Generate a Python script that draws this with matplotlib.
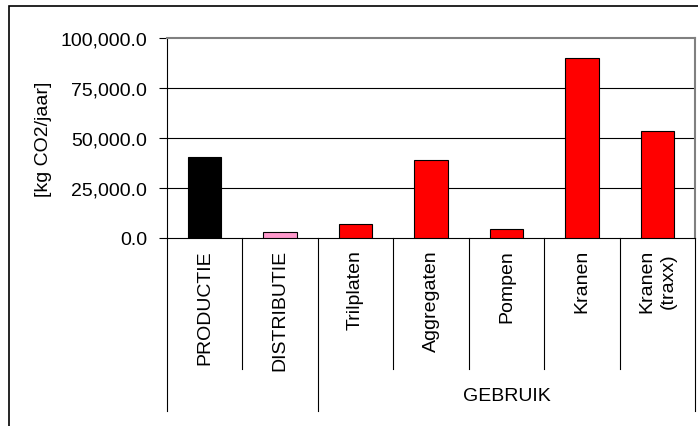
import matplotlib
matplotlib.use("Agg")
import matplotlib.pyplot as plt
from matplotlib.patches import Rectangle
import matplotlib.transforms as mtransforms

plt.rcParams['font.family'] = ['Liberation Sans', 'DejaVu Sans']

categories = ["PRODUCTIE", "DISTRIBUTIE", "Trilplaten", "Aggregaten", "Pompen", "Kranen", "Kranen\n(traxx)"]
values = [40600, 2900, 6800, 39000, 4600, 90000, 53400]
colors = ["#000000", "#FF99CC", "#FF0000", "#FF0000", "#FF0000", "#FF0000", "#FF0000"]
group_label = "GEBRUIK"
group_start = 2  # first index of the GEBRUIK group
y_ticks = [0, 25000, 50000, 75000, 100000]
y_label = "[kg CO2/jaar]"

W, H = 698, 427
fig = plt.figure(figsize=(W / 100, H / 100), dpi=100)

# pixel geometry of plot area
L, R, T, B = 166.7, 695.3, 39.3, 238.7
ax = fig.add_axes([L / W, 1 - B / H, (R - L) / W, (B - T) / H])
ah = B - T

n = len(categories)
ax.bar(range(n), values, width=0.44, color=colors, edgecolor="black", linewidth=0.8, zorder=3)
ax.set_xlim(-0.5, n - 0.5)
ax.set_ylim(0, 100000)

ax.set_yticks(y_ticks)
ax.set_yticklabels([f"{v:,.1f}" for v in y_ticks], fontsize=14)
ax.tick_params(axis="y", length=6, width=0.8, pad=8, direction="out")
ax.set_xticks([])
for v in y_ticks[1:-1]:
    ax.axhline(v, color="black", linewidth=0.8, zorder=1)

for s in ["top", "right"]:
    ax.spines[s].set_color("#808080")
    ax.spines[s].set_linewidth(1.5)
ax.spines["left"].set_linewidth(0.8)
ax.spines["bottom"].set_linewidth(0.8)

blend = mtransforms.blended_transform_factory(ax.transData, ax.transAxes)
short = -(370 - B) / ah
long_ = -(411.7 - B) / ah
bounds = [i - 0.5 for i in range(n + 1)]
for i, xb in enumerate(bounds):
    ybot = long_ if i in (0, group_start, n) else short
    ax.plot([xb, xb], [0, ybot], color="black", linewidth=0.8, transform=blend, clip_on=False)

ytop = -(250 - B) / ah
for i, c in enumerate(categories):
    ax.text(i, ytop, c, transform=blend, rotation=90, ha="center", va="top",
            fontsize=14, multialignment="center", linespacing=1.3)

gx = (group_start - 0.5 + n - 0.5) / 2
ax.text(gx, -(396.5 - B) / ah, group_label, transform=blend, ha="center", va="center", fontsize=14)

fig.text(43 / W, 1 - 139 / H, y_label, rotation=90, ha="center", va="center", fontsize=14)

fig.add_artist(Rectangle((9.3 / W, -0.2), 1.5, 1.2 - 6.7 / H, transform=fig.transFigure,
                         fill=False, edgecolor="black", linewidth=1.2, clip_on=False))

fig.savefig("out.png", dpi=100)
